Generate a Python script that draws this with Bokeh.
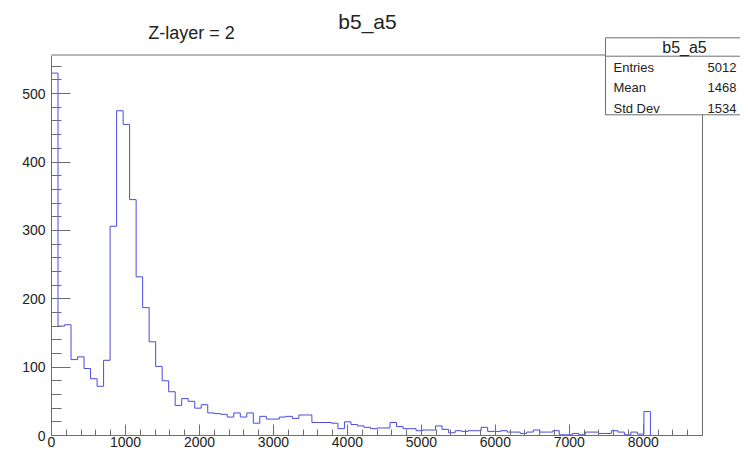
import numpy as np
from bokeh.plotting import figure
from bokeh.models import Range1d, FixedTicker, Label
from bokeh.embed import file_html
from bokeh.resources import INLINE

# ---------------- data ----------------
TITLE = "b5_a5"
SUBTITLE = "Z-layer = 2"
X_MIN, X_MAX, N_BINS = 0, 8800, 100
COUNTS = [530, 160, 162, 111, 115, 98, 83, 72, 110, 306,
          475, 455, 345, 232, 187, 137, 101, 80, 64, 44,
          54, 50, 40, 45, 33, 32, 31, 27, 33, 27,
          33, 18, 28, 24, 24, 27, 28, 25, 30, 30,
          19, 19, 19, 18, 10, 20, 16, 14, 12, 10,
          11, 11, 19, 13, 10, 10, 7, 8, 8, 14,
          9, 4, 7, 6, 7, 7, 12, 6, 6, 7,
          5, 5, 3, 5, 8, 5, 5, 7, 1, 1,
          3, 1, 5, 5, 3, 3, 7, 5, 1, 5,
          2, 35, 0, 0, 0, 0, 0, 0, 0, 0]
X_TICKS = [0, 1000, 2000, 3000, 4000, 5000, 6000, 7000, 8000]
Y_TICKS = [0, 100, 200, 300, 400, 500]
STATS_NAMES = ["Entries", "Mean", "Std Dev"]
STATS_VALUES = ["5012", "1468", "1534"]

# ---------------- geometry (picture pixels) ----------------
FIG_W, FIG_H = 740, 451
BOTTOM_BORDER = 16
ROOT_L, ROOT_R, ROOT_T = 51, 702, 54.5
ROOT_B = FIG_H - BOTTOM_BORDER

Y_MAX = 1.05 * max(COUNTS)
X_END = X_MAX * (FIG_W - ROOT_L) / (ROOT_R - ROOT_L)
Y_END = Y_MAX * ROOT_B / (ROOT_B - ROOT_T)


def wx(px):
    return (px - ROOT_L) / (ROOT_R - ROOT_L) * X_MAX


def wy(py):
    return (ROOT_B - py) / (ROOT_B - ROOT_T) * Y_MAX


edges = np.linspace(X_MIN, X_MAX, N_BINS + 1)
counts = np.array(COUNTS, dtype=float)
xs = [edges[0]]
ys = [0.0]
for i in range(N_BINS):
    xs += [edges[i], edges[i + 1]]
    ys += [counts[i], counts[i]]
xs.append(edges[-1])
ys.append(0.0)

x_minor = list(np.arange(0, X_MAX + 1, 200))
y_minor = list(np.arange(0, Y_MAX, 20))

p = figure(width=FIG_W, height=FIG_H, output_backend="svg", toolbar_location=None,
           x_range=Range1d(X_MIN, X_END), y_range=Range1d(0, Y_END),
           min_border_left=ROOT_L, min_border_right=0,
           min_border_top=0, min_border_bottom=BOTTOM_BORDER)
p.outline_line_color = None
p.grid.visible = False
p.background_fill_color = "white"
p.border_fill_color = "white"

AX_COL = "#6e6e6e"
TXT_COL = "#222222"
FONT = "Liberation Sans"

for ax in (p.xaxis[0], p.yaxis[0]):
    ax.axis_line_color = AX_COL
    ax.major_tick_line_color = AX_COL
    ax.minor_tick_line_color = AX_COL
    ax.major_tick_out = 0
    ax.minor_tick_out = 0
    ax.major_label_text_font = FONT
    ax.major_label_text_font_size = "14px"
    ax.major_label_text_color = TXT_COL

p.xaxis.ticker = FixedTicker(ticks=X_TICKS, minor_ticks=x_minor)
p.xaxis.bounds = (X_MIN, X_MAX)
p.xaxis.major_tick_in = 11
p.xaxis.minor_tick_in = 6
p.xaxis.major_label_standoff = 1

p.yaxis.ticker = FixedTicker(ticks=Y_TICKS, minor_ticks=y_minor)
p.yaxis.bounds = (0, Y_MAX)
p.yaxis.major_tick_in = 19
p.yaxis.minor_tick_in = 10
p.yaxis.major_label_standoff = 6

# ROOT frame: top and right edges
p.segment(x0=[X_MIN, X_MAX], y0=[Y_MAX, 0], x1=[X_MAX, X_MAX], y1=[Y_MAX, Y_MAX],
          line_color=AX_COL, line_width=1)

# histogram outline
p.line(xs, ys, line_color="#4a4ae0", line_width=1)

# stats box (runs past the right edge, as in the reference)
bx0, bx1 = wx(605), wx(760)
p.quad(left=[bx0], right=[bx1], top=[wy(37.3)], bottom=[wy(114.3)],
       fill_color="white", line_color=AX_COL, line_width=1)
p.segment(x0=[bx0], y0=[wy(55.7)], x1=[bx1], y1=[wy(55.7)], line_color=AX_COL, line_width=1)

p.add_layout(Label(x=wx(684), y=wy(46.5), text=TITLE, text_align="center",
                   text_baseline="middle", text_font=FONT, text_font_size="16px",
                   text_color=TXT_COL))
name_y = [67, 87, 108]
for n, v, yy in zip(STATS_NAMES, STATS_VALUES, name_y):
    p.add_layout(Label(x=wx(613), y=wy(yy), text=n, text_align="left",
                       text_baseline="middle", text_font=FONT, text_font_size="13px",
                       text_color=TXT_COL))
    p.add_layout(Label(x=wx(736), y=wy(yy), text=v, text_align="right",
                       text_baseline="middle", text_font=FONT, text_font_size="13px",
                       text_color=TXT_COL))

# titles
p.add_layout(Label(x=wx(367), y=wy(21), text=TITLE, text_align="center",
                   text_baseline="middle", text_font=FONT, text_font_size="21px",
                   text_color=TXT_COL))
p.add_layout(Label(x=wx(191), y=wy(32), text=SUBTITLE, text_align="center",
                   text_baseline="middle", text_font=FONT, text_font_size="18px",
                   text_color=TXT_COL))

open("out.html", "w").write(file_html(p, INLINE))
